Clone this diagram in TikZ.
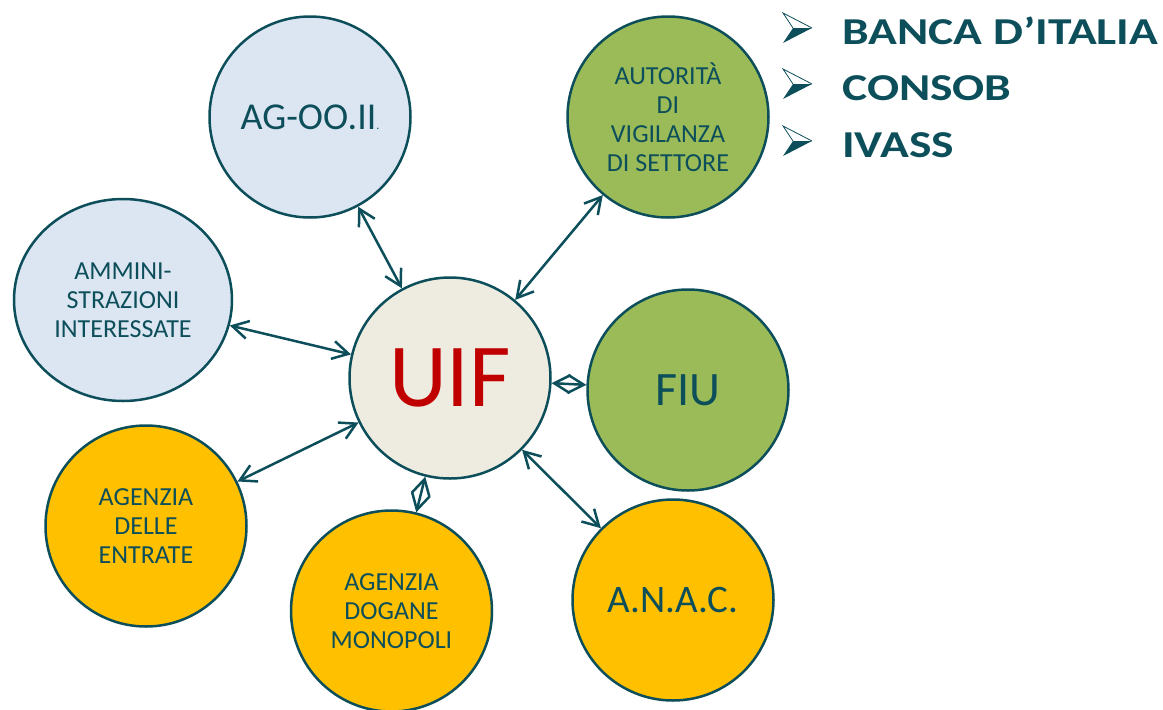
\documentclass[tikz,border=0pt]{standalone}
\usepackage{fontspec}
\setmainfont{Carlito}
\newfontfamily\listfont{Carlito}[FakeStretch=1.25]
\usetikzlibrary{arrows.meta, shapes.geometric}
\definecolor{ink}{RGB}{12,78,90}
\definecolor{paleblue}{RGB}{220,230,242}
\definecolor{beige}{RGB}{238,236,225}
\definecolor{leaf}{RGB}{155,187,89}
\definecolor{amber}{RGB}{255,192,0}
\definecolor{uifred}{RGB}{192,0,0}
\tikzset{
  agency/.style={circle, draw=ink, line width=2.5pt, text=ink, minimum size=201pt,
    inner sep=0pt, align=center, font=\fontsize{26}{29}\selectfont},
  link/.style={ink, line width=2.5pt,
    {Straight Barb[length=16pt,width=18pt]}-{Straight Barb[length=16pt,width=18pt]}},
  listitem/.style={anchor=base west, inner sep=0pt, text=ink,
    font=\listfont\bfseries\fontsize{38}{38}\selectfont},
  pics/listarrow/.style={code={
    \fill[ink] (10,0) -- (29,0) -- (0,15) -- cycle;
    \draw[ink, line width=0.8pt, line join=miter] (10,0) -- (0,-15) -- (29,0);
  }}
}
\begin{document}
\begin{tikzpicture}[x=1pt, y=-1pt]
  \useasboundingbox (0,0) rectangle (1163,710);
  % centre
  \node[agency, fill=beige, text=uifred, font=\fontsize{90}{90}\selectfont] (uif) at (450,378) {UIF};
  % surrounding bodies
  \node[agency, fill=paleblue, font=\fontsize{38}{38}\selectfont] (agoo) at (310,117) {AG-OO.II{\fontsize{12}{12}\selectfont.}};
  \node[agency, ellipse, fill=paleblue, minimum width=218pt, minimum height=202pt] (ammin) at (123,300) {AMMINI-\\STRAZIONI\\INTERESSATE};
  \node[agency, fill=amber] (entrate) at (146,526) {AGENZIA\\DELLE\\ENTRATE};
  \node[agency, fill=amber] (dogane) at (391.5,611) {AGENZIA\\DOGANE\\MONOPOLI};
  \node[agency, fill=amber, font=\fontsize{39}{39}\selectfont] (anac) at (673,600) {A.N.A.C.};
  \node[agency, fill=leaf, font=\fontsize{48}{48}\selectfont] (fiu) at (688,390) {FIU};
  \node[agency, fill=leaf] (vigil) at (668,117) {AUTORITÀ\\DI\\VIGILANZA\\DI SETTORE};
  % links
  \draw[link] (agoo) -- (uif);
  \draw[link] (ammin) -- (uif);
  \draw[link] (entrate) -- (uif);
  \draw[link] (dogane) -- (uif);
  \draw[link] (anac) -- (uif);
  \draw[link] (fiu) -- (uif);
  \draw[link] (vigil) -- (uif);
  % supervisory authorities
  \pic (bullA) at (783,28) {listarrow};
  \pic (bullB) at (783,84) {listarrow};
  \pic (bullC) at (783,141) {listarrow};
  \node[listitem] (banca) at (842,44) {BANCA D’ITALIA};
  \node[listitem] (consob) at (842,100) {CONSOB};
  \node[listitem] (ivass) at (842,157) {IVASS};
\end{tikzpicture}
\end{document}
